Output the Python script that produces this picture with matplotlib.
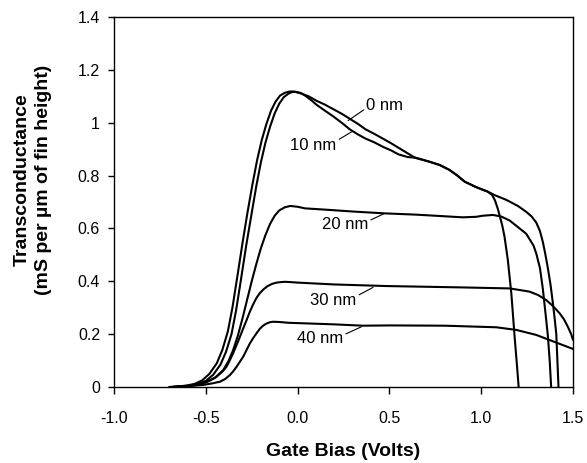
import matplotlib
matplotlib.use("Agg")
import matplotlib.pyplot as plt

plt.rcParams['font.family'] = ['Liberation Sans', 'DejaVu Sans']

# ---- data (Gate bias in V, transconductance in mS per um of fin height) ----
x_0nm = [-0.70, -0.65, -0.60, -0.56, -0.52, -0.48, -0.44, -0.41, -0.38, -0.355, -0.33, -0.30,
         -0.273, -0.245, -0.22, -0.195, -0.17, -0.145, -0.12, -0.095, -0.07, -0.045, -0.02, 0.012,
         0.06, 0.103, 0.15, 0.192, 0.24, 0.284, 0.33, 0.37, 0.42, 0.464, 0.51, 0.55, 0.60, 0.638,
         0.68, 0.72, 0.774, 0.828, 0.87, 0.91, 0.97, 1.036, 1.08, 1.137, 1.20, 1.245, 1.275, 1.30,
         1.32, 1.336, 1.35, 1.363, 1.377, 1.39, 1.40, 1.409, 1.415, 1.421]
y_0nm = [0.0, 0.002, 0.006, 0.012, 0.025, 0.05, 0.09, 0.14, 0.21, 0.30, 0.41, 0.545,
         0.66, 0.77, 0.86, 0.935, 0.995, 1.045, 1.08, 1.103, 1.113, 1.118, 1.118, 1.112,
         1.10, 1.083, 1.068, 1.052, 1.034, 1.015, 0.995, 0.975, 0.957, 0.94, 0.922, 0.905, 0.884, 0.868,
         0.86, 0.852, 0.84, 0.821, 0.80, 0.777, 0.757, 0.739, 0.724, 0.708, 0.685, 0.663, 0.645, 0.622,
         0.59, 0.548, 0.50, 0.45, 0.39, 0.32, 0.26, 0.20, 0.10, 0.0]

x_10nm = [-0.69, -0.64, -0.59, -0.545, -0.50, -0.46, -0.42, -0.39, -0.36, -0.335, -0.31, -0.28,
          -0.252, -0.225, -0.20, -0.175, -0.15, -0.125, -0.10, -0.075, -0.05, -0.03, -0.01, 0.02,
          0.05, 0.08, 0.103, 0.15, 0.192, 0.24, 0.284, 0.33, 0.37, 0.42, 0.464, 0.51, 0.55, 0.60,
          0.638, 0.68, 0.72, 0.774, 0.828, 0.87, 0.91, 0.97, 1.036, 1.06, 1.075, 1.09, 1.10, 1.115,
          1.127, 1.145, 1.164, 1.182, 1.195, 1.204]
y_10nm = [0.0, 0.002, 0.005, 0.011, 0.023, 0.046, 0.085, 0.133, 0.20, 0.29, 0.40, 0.535,
          0.65, 0.76, 0.85, 0.925, 0.985, 1.035, 1.072, 1.097, 1.11, 1.116, 1.117, 1.112,
          1.098, 1.082, 1.068, 1.045, 1.025, 1.0, 0.975, 0.955, 0.94, 0.925, 0.909, 0.895, 0.88, 0.87,
          0.868, 0.86, 0.852, 0.84, 0.821, 0.80, 0.777, 0.757, 0.739, 0.726, 0.706, 0.675, 0.65, 0.61,
          0.569, 0.481, 0.355, 0.19, 0.08, 0.0]

x_20nm = [-0.68, -0.60, -0.55, -0.50, -0.45, -0.405, -0.375, -0.351, -0.325, -0.30, -0.275, -0.25,
          -0.225, -0.20, -0.175, -0.15, -0.125, -0.10, -0.07, -0.04, 0.0, 0.039, 0.175, 0.30, 0.474,
          0.65, 0.80, 0.90, 0.973, 1.008, 1.064, 1.109, 1.155, 1.191, 1.245, 1.263, 1.285, 1.30,
          1.32, 1.336, 1.35, 1.363, 1.373, 1.381]
y_20nm = [0.0, 0.003, 0.008, 0.018, 0.035, 0.064, 0.10, 0.14, 0.195, 0.26, 0.33, 0.40,
          0.465, 0.525, 0.575, 0.617, 0.648, 0.668, 0.68, 0.685, 0.682, 0.676, 0.67, 0.664, 0.657,
          0.652, 0.646, 0.642, 0.644, 0.648, 0.651, 0.645, 0.63, 0.61, 0.58, 0.56, 0.535, 0.505,
          0.45, 0.37, 0.28, 0.195, 0.10, 0.0]

x_30nm = [-0.68, -0.604, -0.55, -0.514, -0.475, -0.441, -0.41, -0.387, -0.37, -0.351, -0.333,
          -0.314, -0.296, -0.278, -0.26, -0.242, -0.224, -0.206, -0.185, -0.165, -0.14, -0.115,
          -0.09, -0.07, -0.04, 0.0, 0.2, 0.484, 0.882, 1.155, 1.263, 1.31, 1.354, 1.39, 1.427,
          1.45, 1.472, 1.49, 1.5]
y_30nm = [0.0, 0.004, 0.008, 0.014, 0.025, 0.039, 0.058, 0.077, 0.10, 0.128, 0.158,
          0.19, 0.222, 0.253, 0.285, 0.313, 0.337, 0.355, 0.370, 0.381, 0.39, 0.395,
          0.397, 0.398, 0.397, 0.395, 0.388, 0.382, 0.377, 0.373, 0.361, 0.348, 0.329, 0.307, 0.279,
          0.257, 0.228, 0.20, 0.178]

x_40nm = [-0.68, -0.60, -0.514, -0.47, -0.423, -0.395, -0.369, -0.35, -0.332, -0.314, -0.296,
          -0.278, -0.26, -0.242, -0.224, -0.206, -0.188, -0.17, -0.151, -0.133, -0.10, -0.05, 0.2,
          0.355, 0.5, 0.8, 1.082, 1.191, 1.30, 1.409, 1.5]
y_40nm = [0.0, 0.003, 0.008, 0.013, 0.02, 0.03, 0.045, 0.06, 0.077, 0.096, 0.115,
          0.14, 0.165, 0.185, 0.203, 0.22, 0.232, 0.24, 0.245, 0.247, 0.246, 0.243, 0.237,
          0.232, 0.233, 0.232, 0.226, 0.216, 0.197, 0.168, 0.144]

labels = ["0 nm", "10 nm", "20 nm", "30 nm", "40 nm"]

x_ticks = [-1.0, -0.5, 0.0, 0.5, 1.0, 1.5]
x_ticklabels = ["-1.0", "-0.5", "0.0", "0.5", "1.0", "1.5"]
y_ticks = [0, 0.2, 0.4, 0.6, 0.8, 1.0, 1.2, 1.4]
y_ticklabels = ["0", "0.2", "0.4", "0.6", "0.8", "1", "1.2", "1.4"]

# annotation layout: (point on curve, text anchor, ha, relpos)
ann = [
    ((0.275, 1.008), (0.375, 1.067), 'left', (0.0, 0.3)),
    ((0.295, 0.966), (0.212, 0.914), 'right', (1.0, 0.8)),
    ((0.474, 0.657), (0.384, 0.613), 'right', (1.0, 0.75)),
    ((0.411, 0.377), (0.320, 0.329), 'right', (1.0, 0.75)),
    ((0.348, 0.228), (0.248, 0.182), 'right', (1.0, 0.75)),
]

W, H = 587, 463
fig = plt.figure(figsize=(W / 100, H / 100), dpi=100)
ax = fig.add_axes([114 / W, 1 - 387 / H, (573 - 114) / W, (387 - 17) / H])

series = [(x_0nm, y_0nm), (x_10nm, y_10nm), (x_20nm, y_20nm), (x_30nm, y_30nm), (x_40nm, y_40nm)]
for xs, ys in series:
    ax.plot(xs, ys, color='black', lw=1.5, solid_joinstyle='round', solid_capstyle='round')

for lab, (xy, xt, ha, rp) in zip(labels, ann):
    ax.annotate(lab, xy=xy, xytext=xt, ha=ha, va='center', fontsize=12,
                arrowprops=dict(arrowstyle='-', color='black', lw=0.8,
                                shrinkA=0, shrinkB=0, relpos=rp))

ax.set_xlim(-1.0, 1.5)
ax.set_ylim(0, 1.4)
ax.set_xticks(x_ticks)
ax.set_xticklabels(x_ticklabels)
ax.set_yticks(y_ticks)
ax.set_yticklabels(y_ticklabels)
ax.tick_params(axis='x', direction='out', length=5, width=1, labelsize=11.5, pad=12)
ax.tick_params(axis='y', direction='out', length=4.5, width=1, labelsize=11.5, pad=5.5)
for s in ax.spines.values():
    s.set_linewidth(1.0)

ax.set_xlabel("Gate Bias (Volts)", fontsize=14, fontweight='bold', labelpad=12.5)

fig.text(22 / W, 1 - 180 / H, "Transconductance", rotation=90, ha='center', va='center',
         fontsize=14, fontweight='bold')
fig.text(44 / W, 1 - 180 / H, "(mS per µm of fin height)", rotation=90, ha='center', va='center',
         fontsize=14, fontweight='bold')

fig.savefig("out.png", dpi=100)
